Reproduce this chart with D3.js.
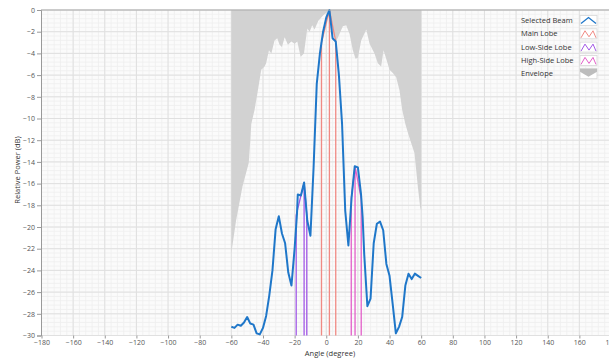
<!DOCTYPE html>
<html>
<head>
<meta charset="utf-8">
<title>Beam Pattern</title>
<style>
  body { margin: 0; background: #fff; }
  svg { display: block; }
  .tick text { font-family: "Open Sans", Arial, sans-serif; font-size: 7px; fill: #555; }
  .axis-title { font-family: "Open Sans", Arial, sans-serif; font-size: 7.5px; fill: #333; }
  .legend text { font-family: "Open Sans", Arial, sans-serif; font-size: 7.5px; fill: #333; }
</style>
<script src="https://d3js.org/d3.v7.min.js"></script>
</head>
<body>
<svg width="609" height="358"></svg>
<script>
// Selected beam
const beamAngles = [-60, -58, -56, -54, -52, -50, -48, -46, -44, -42, -40, -38, -36, -34, -32, -30, -28, -26, -24, -22,
  -20, -18.5, -18, -16, -14, -12, -10, -8, -6, -4, -2, 0, 2, 4, 6, 8, 10, 12, 14, 16, 18, 20, 22, 23, 24, 26, 28,
  30, 32, 34, 36, 38, 40, 42, 44, 46, 48, 50, 52, 54, 56, 58, 60];
const beamPower = [-29.2, -29.3, -29.0, -29.1, -28.8, -28.3, -28.9, -29.0, -29.8, -29.9, -29.3, -28.2, -26.3, -24.0, -20.2, -19.0, -20.6, -21.5, -24.2, -25.4,
  -22.0, -18.8, -17.0, -17.1, -15.9, -19.4, -20.8, -14.5, -6.8, -4.0, -2.0, -0.7, 0, -2.6, -2.9, -6.0, -10.5, -18.5, -21.7, -17.3, -14.4, -14.5, -17.0, -19.1, -22.5, -27.3, -26.6,
  -21.5, -19.7, -19.5, -20.3, -23.4, -24.5, -27.1, -29.8, -29.2, -28.3, -25.4, -24.3, -24.8, -24.3, -24.5, -24.7];

// Envelope of all beams
const envAngles = [-60, -57, -53, -49, -48, -47.4, -45.3, -43.2, -41.1, -39, -38, -36.2, -34.7, -32.7, -31, -29.5, -28, -26.3, -24.2, -22.1,
  -20, -18.3, -16.2, -14.1, -12, -10.5, -8.9, -7.4, -5, -2, 2, 4, 6.3, 8.4, 10.5, 12.6, 14.7, 16.8, 18.5, 20, 22.1, 25.3, 27.4, 30.5,
  32.6, 34.7, 36.2, 37.9, 40, 42.1, 44.2, 46.3, 48, 50, 52, 55.8, 57.9, 59.4, 60];
const envPower = [-22.4, -19.4, -16.3, -14.1, -12.0, -10.5, -9.2, -7.4, -5.5, -5.2, -4.9, -3.7, -4.0, -2.8, -2.6, -3.2, -3.4, -2.5, -3.2, -2.9,
  -3.1, -2.9, -4.3, -4.0, -1.7, -2.0, -1.4, -1.8, -1.0, -0.5, 0, -2.0, -2.9, -2.2, -1.5, -1.4, -2.2, -3.7, -4.5, -4.4, -2.8, -1.8, -3.1, -4.0,
  -4.9, -5.2, -3.7, -4.5, -5.5, -5.8, -6.2, -7.4, -9.2, -10.5, -11.5, -13.2, -16.3, -18.2, -18.5];

// Lobes: left -3 dB point, peak, right -3 dB point
const mainLobeAngles = [-3, 2, 6];
const mainLobePower = [-3.0, 0, -2.9];
const lowLobeAngles = [-19, -14, -12.3];
const lowLobePower = [-18.9, -15.9, -18.9];
const highLobeAngles = [15.8, 18.2, 22.1];
const highLobePower = [-17.4, -14.4, -17.4];

const xTicks = d3.range(-180, 181, 20);
const yTicks = d3.range(-30, 1, 2);
const legendNames = ["Selected Beam", "Main Lobe", "Low-Side Lobe", "High-Side Lobe", "Envelope"];

const colors = { beam: "#1f77c9", main: "#f08a84", low: "#a259e6", high: "#e35fc9", env: "#d2d2d2" };

const svg = d3.select("svg");
const plotLeft = 41, plotTop = 10, plotBottom = 335.5, plotRight = 611;

const x = d3.scaleLinear().domain([-180, 180]).range([41.5, plotRight]);
const y = d3.scaleLinear().domain([-30, 0]).range([plotBottom, plotTop]);

// plot background
svg.append("rect").attr("x", plotLeft).attr("y", plotTop)
  .attr("width", plotRight - plotLeft).attr("height", plotBottom - plotTop).attr("fill", "#fbfbfb");

// minor grid
const grid = svg.append("g");
grid.selectAll(".vminor").data(d3.range(-180, 181, 4)).enter().append("line")
  .attr("x1", d => x(d)).attr("x2", d => x(d)).attr("y1", plotTop).attr("y2", plotBottom)
  .attr("stroke", "#efefef").attr("stroke-width", 0.8);
grid.selectAll(".hminor").data(d3.range(0, 76).map(i => -30 + i * 0.4)).enter().append("line")
  .attr("x1", plotLeft).attr("x2", plotRight).attr("y1", d => y(d)).attr("y2", d => y(d))
  .attr("stroke", "#efefef").attr("stroke-width", 0.8);
// major grid
grid.selectAll(".vmajor").data(xTicks).enter().append("line")
  .attr("x1", d => x(d)).attr("x2", d => x(d)).attr("y1", plotTop).attr("y2", plotBottom)
  .attr("stroke", "#e0e0e0").attr("stroke-width", 1);
grid.selectAll(".hmajor").data(yTicks).enter().append("line")
  .attr("x1", plotLeft).attr("x2", plotRight).attr("y1", d => y(d)).attr("y2", d => y(d))
  .attr("stroke", "#e0e0e0").attr("stroke-width", 1);

// envelope: grey above the envelope curve
const envData = envAngles.map((a, i) => ({ a, p: envPower[i] }));
svg.append("path").datum(envData)
  .attr("fill", colors.env)
  .attr("d", d3.area().x(d => x(d.a)).y0(y(0)).y1(d => y(d.p)));

// lobe markers
function lobePoints(angles, power) {
  return [
    [angles[0], -30], [angles[0], power[0]], [angles[1], power[1]], [angles[1], -30],
    [angles[1], power[1]], [angles[2], power[2]], [angles[2], -30]
  ];
}
const lineXY = d3.line().x(d => x(d[0])).y(d => y(d[1]));
[[mainLobeAngles, mainLobePower, colors.main],
 [lowLobeAngles, lowLobePower, colors.low],
 [highLobeAngles, highLobePower, colors.high]].forEach(([a, p, c]) => {
  svg.append("path").datum(lobePoints(a, p))
    .attr("fill", "none").attr("stroke", c).attr("stroke-width", 1.3)
    .attr("d", lineXY);
});

// selected beam
svg.append("path").datum(beamAngles.map((a, i) => [a, beamPower[i]]))
  .attr("fill", "none").attr("stroke", colors.beam).attr("stroke-width", 2)
  .attr("stroke-linejoin", "round")
  .attr("d", lineXY);

// top border
svg.append("line").attr("x1", plotLeft).attr("x2", 609).attr("y1", plotTop).attr("y2", plotTop)
  .attr("stroke", "#aaa").attr("stroke-width", 1.2);

// axes
const yAxis = svg.append("g").attr("transform", `translate(${plotLeft},0)`)
  .call(d3.axisLeft(y).tickValues(yTicks).tickSize(4).tickPadding(2));
yAxis.select(".domain").attr("stroke", "#999");
yAxis.selectAll(".tick line").attr("stroke", "#999");

const xAxis = svg.append("g").attr("transform", `translate(0,${plotBottom})`)
  .call(d3.axisBottom(x).tickValues(xTicks).tickSize(3).tickPadding(2));
xAxis.select(".domain").remove();
xAxis.selectAll(".tick line").attr("stroke", "#999");

svg.append("text").attr("class", "axis-title")
  .attr("x", 330).attr("y", 356).attr("text-anchor", "middle").text("Angle (degree)");
svg.append("text").attr("class", "axis-title")
  .attr("transform", "translate(20,170) rotate(-90)")
  .attr("text-anchor", "middle").text("Relative Power (dB)");

// legend
const legend = svg.append("g").attr("class", "legend");
const iconX = 580, iconW = 17, iconH = 10;
legendNames.forEach((name, i) => {
  const cy = 20.5 + i * 13.3;
  legend.append("text").attr("x", 521).attr("y", cy + 2.6).text(name);
  const g = legend.append("g").attr("transform", `translate(${iconX},${cy - iconH / 2})`);
  g.append("rect").attr("width", iconW).attr("height", iconH)
    .attr("fill", "#fff").attr("stroke", "#d8d8d8").attr("stroke-width", 0.8);
  if (i === 0) {
    g.append("path").attr("d", "M1,8 L8.5,2 L16,8")
      .attr("fill", "none").attr("stroke", colors.beam).attr("stroke-width", 1.3);
  } else if (i < 4) {
    const c = [colors.main, colors.low, colors.high][i - 1];
    g.append("path").attr("d", "M1,9 L5,2 L9,8 L13,2 L16,9")
      .attr("fill", "none").attr("stroke", c).attr("stroke-width", 1);
  } else {
    g.append("path").attr("d", "M0,0 L17,0 L17,3 L8.5,8 L0,3 Z").attr("fill", "#bdbdbd");
  }
});
</script>
</body>
</html>
